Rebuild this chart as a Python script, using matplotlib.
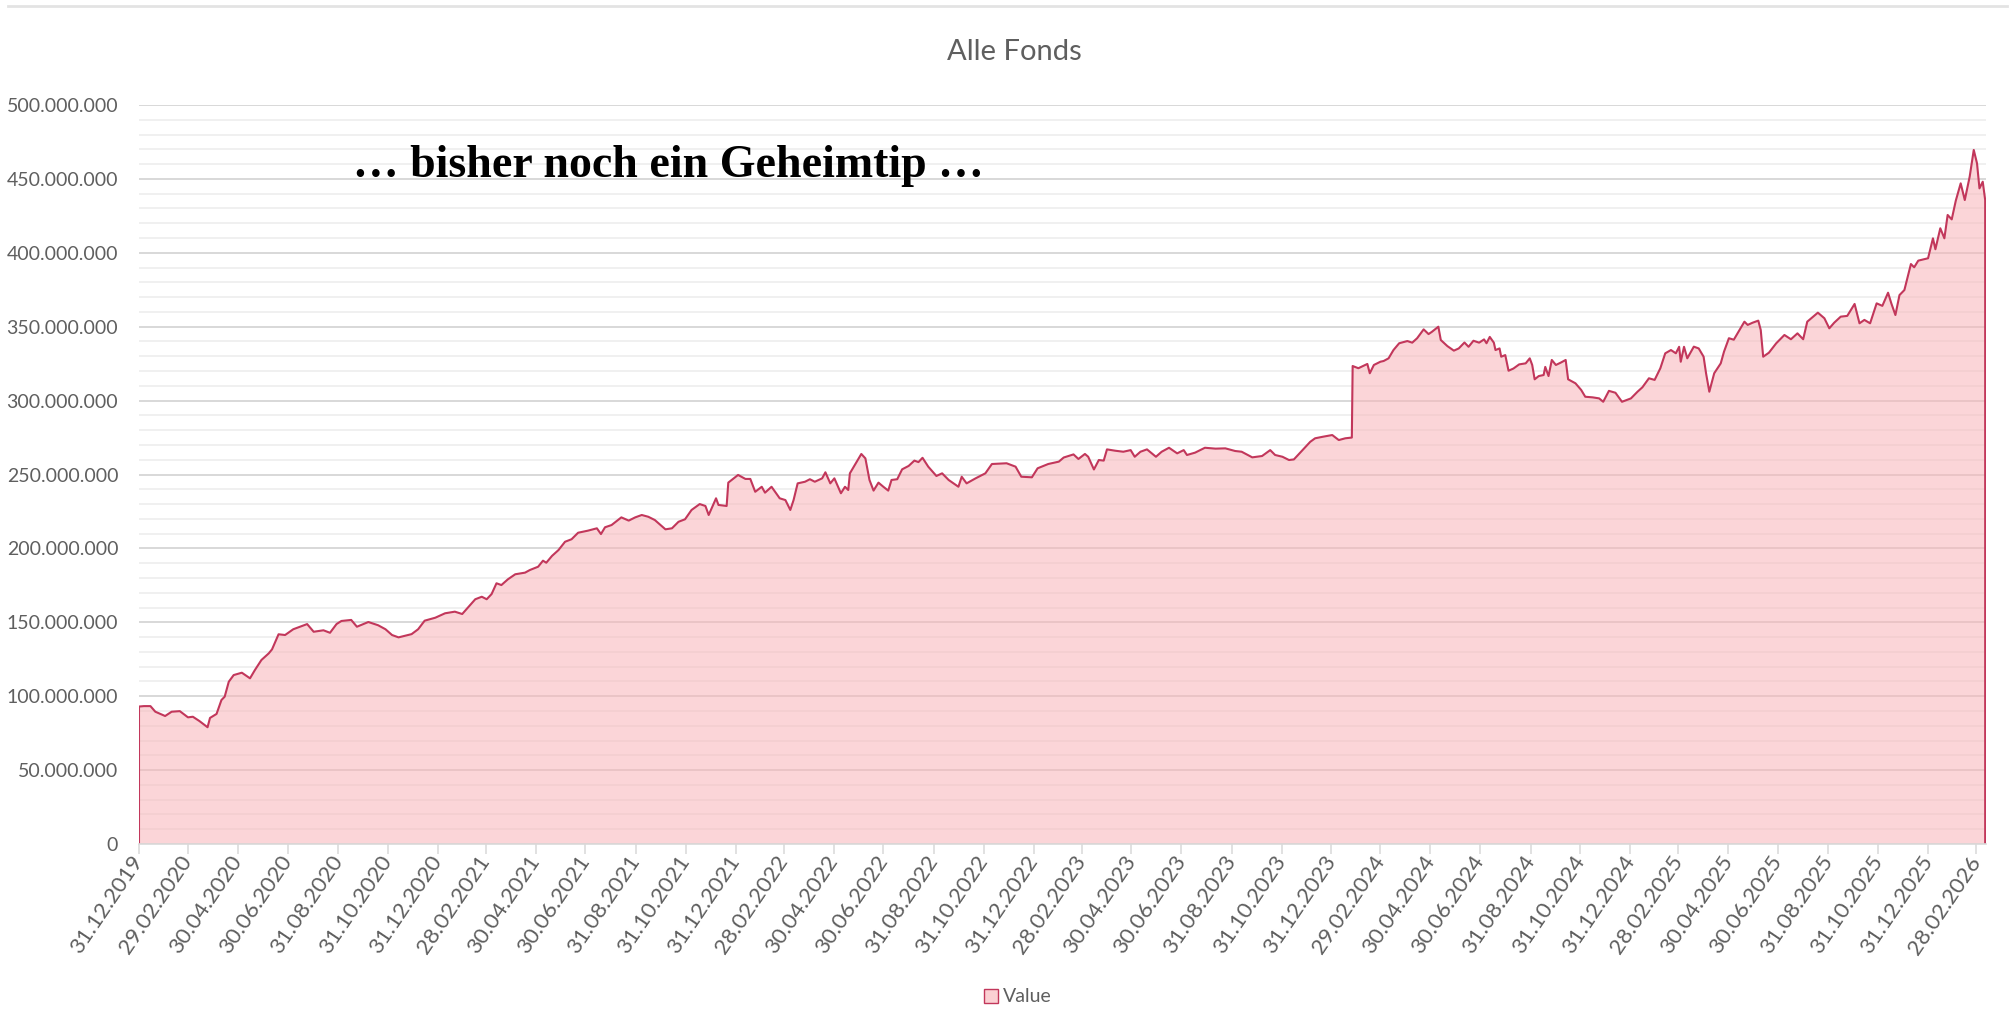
import matplotlib
matplotlib.use("Agg")
import matplotlib.pyplot as plt
from matplotlib.ticker import MultipleLocator, FuncFormatter
from matplotlib.patches import Patch
from matplotlib.lines import Line2D
import pandas as pd

# ---------------- data (values in millions) ----------------
dates = [
    "2019-12-31", "2020-01-06", "2020-01-14", "2020-01-20", "2020-02-01", "2020-02-09", "2020-02-19",
    "2020-02-29", "2020-03-06", "2020-03-14", "2020-03-24", "2020-03-27", "2020-04-04", "2020-04-10",
    "2020-04-14", "2020-04-19", "2020-04-25", "2020-05-05", "2020-05-15", "2020-05-21", "2020-05-29",
    "2020-06-07", "2020-06-11", "2020-06-19", "2020-06-27", "2020-07-07", "2020-07-24", "2020-08-01",
    "2020-08-13", "2020-08-21", "2020-08-29", "2020-09-04", "2020-09-16", "2020-09-23", "2020-10-07",
    "2020-10-19", "2020-10-28", "2020-11-05", "2020-11-13", "2020-11-29", "2020-12-07", "2020-12-15",
    "2020-12-28", "2021-01-09", "2021-01-21", "2021-01-30", "2021-02-07", "2021-02-15", "2021-02-23",
    "2021-03-01", "2021-03-07", "2021-03-13", "2021-03-19", "2021-03-27", "2021-04-05", "2021-04-17",
    "2021-04-23", "2021-05-03", "2021-05-09", "2021-05-13", "2021-05-20", "2021-05-28", "2021-06-05",
    "2021-06-13", "2021-06-21", "2021-07-03", "2021-07-14", "2021-07-19", "2021-07-24", "2021-08-01",
    "2021-08-13", "2021-08-22", "2021-08-30", "2021-09-07", "2021-09-15", "2021-09-23", "2021-10-06",
    "2021-10-14", "2021-10-22", "2021-10-30", "2021-11-07", "2021-11-17", "2021-11-24", "2021-11-28",
    "2021-12-07", "2021-12-10", "2021-12-20", "2021-12-22", "2022-01-03", "2022-01-12", "2022-01-18",
    "2022-01-24", "2022-02-01", "2022-02-05", "2022-02-13", "2022-02-23", "2022-03-02", "2022-03-08",
    "2022-03-12", "2022-03-17", "2022-03-26", "2022-04-01", "2022-04-07", "2022-04-16", "2022-04-20",
    "2022-04-26", "2022-05-01", "2022-05-09", "2022-05-14", "2022-05-18", "2022-05-20", "2022-05-26",
    "2022-06-03", "2022-06-08", "2022-06-13", "2022-06-18", "2022-06-24", "2022-06-30", "2022-07-06",
    "2022-07-10", "2022-07-17", "2022-07-23", "2022-07-31", "2022-08-07", "2022-08-12", "2022-08-17",
    "2022-08-24", "2022-09-03", "2022-09-10", "2022-09-18", "2022-09-30", "2022-10-04", "2022-10-10",
    "2022-10-21", "2022-11-02", "2022-11-10", "2022-11-28", "2022-12-09", "2022-12-16", "2022-12-29",
    "2023-01-05", "2023-01-18", "2023-01-31", "2023-02-06", "2023-02-18", "2023-02-24", "2023-03-04",
    "2023-03-08", "2023-03-15", "2023-03-21", "2023-03-27", "2023-03-31", "2023-04-10", "2023-04-20",
    "2023-04-29", "2023-05-04", "2023-05-11", "2023-05-19", "2023-05-30", "2023-06-06", "2023-06-15",
    "2023-06-25", "2023-07-03", "2023-07-07", "2023-07-17", "2023-07-29", "2023-08-11", "2023-08-23",
    "2023-09-04", "2023-09-12", "2023-09-25", "2023-10-07", "2023-10-17", "2023-10-23", "2023-11-01",
    "2023-11-09", "2023-11-15", "2023-11-25", "2023-12-05", "2023-12-11", "2023-12-21", "2024-01-01",
    "2024-01-09", "2024-01-17", "2024-01-25", "2024-01-26", "2024-02-02", "2024-02-13", "2024-02-16",
    "2024-02-21", "2024-02-29", "2024-03-04", "2024-03-10", "2024-03-16", "2024-03-23", "2024-04-02",
    "2024-04-08", "2024-04-14", "2024-04-22", "2024-04-28", "2024-05-02", "2024-05-10", "2024-05-13",
    "2024-05-21", "2024-05-29", "2024-06-04", "2024-06-11", "2024-06-16", "2024-06-22", "2024-06-29",
    "2024-07-05", "2024-07-08", "2024-07-12", "2024-07-17", "2024-07-19", "2024-07-24", "2024-07-26",
    "2024-07-31", "2024-08-04", "2024-08-10", "2024-08-17", "2024-08-25", "2024-08-30", "2024-09-02",
    "2024-09-05", "2024-09-10", "2024-09-16", "2024-09-18", "2024-09-22", "2024-09-26", "2024-10-01",
    "2024-10-07", "2024-10-13", "2024-10-16", "2024-10-25", "2024-11-01", "2024-11-06", "2024-11-15",
    "2024-11-23", "2024-11-28", "2024-12-05", "2024-12-13", "2024-12-21", "2025-01-01", "2025-01-09",
    "2025-01-15", "2025-01-23", "2025-01-30", "2025-02-06", "2025-02-12", "2025-02-19", "2025-02-25",
    "2025-03-01", "2025-03-03", "2025-03-07", "2025-03-11", "2025-03-19", "2025-03-25", "2025-03-31",
    "2025-04-03", "2025-04-07", "2025-04-13", "2025-04-21", "2025-04-25", "2025-05-01", "2025-05-07",
    "2025-05-20", "2025-05-24", "2025-05-30", "2025-06-06", "2025-06-09", "2025-06-12", "2025-06-19",
    "2025-06-28", "2025-07-08", "2025-07-16", "2025-07-24", "2025-07-31", "2025-08-05", "2025-08-18",
    "2025-08-26", "2025-09-01", "2025-09-07", "2025-09-15", "2025-09-23", "2025-10-02", "2025-10-08",
    "2025-10-14", "2025-10-21", "2025-10-29", "2025-11-05", "2025-11-12", "2025-11-16", "2025-11-21",
    "2025-11-26", "2025-12-02", "2025-12-10", "2025-12-14", "2025-12-19", "2025-12-31", "2026-01-06",
    "2026-01-09", "2026-01-15", "2026-01-20", "2026-01-24", "2026-01-29", "2026-02-03", "2026-02-09",
    "2026-02-14", "2026-02-20", "2026-02-25", "2026-03-01", "2026-03-04", "2026-03-08", "2026-03-11",
]

values_mio = [
    93.0, 93.3, 93.3, 89.5, 86.6, 89.5, 89.9,
    85.7, 86.1, 83.2, 79.0, 85.3, 88.0, 97.4,
    99.7, 109.8, 114.3, 115.9, 112.1, 117.7, 124.5,
    129.0, 131.7, 141.9, 141.4, 145.3, 148.8, 143.6,
    144.6, 142.9, 148.8, 150.9, 151.6, 147.0, 150.2,
    148.0, 145.3, 141.4, 139.8, 142.0, 145.3, 151.1,
    153.1, 156.1, 157.2, 155.6, 160.6, 165.6, 167.3,
    165.6, 169.1, 176.4, 175.2, 179.1, 182.5, 183.6,
    185.4, 187.6, 191.7, 190.3, 194.9, 198.9, 204.5,
    206.2, 210.6, 212.0, 213.6, 209.7, 214.3, 215.8,
    221.0, 218.8, 221.0, 222.6, 221.4, 219.2, 212.9,
    213.6, 218.0, 219.7, 226.0, 230.0, 228.7, 222.6,
    233.9, 229.4, 228.7, 244.5, 249.7, 247.0, 247.0,
    238.3, 241.7, 237.7, 241.7, 233.9, 232.7, 226.0,
    232.7, 244.0, 245.1, 246.8, 245.1, 247.4, 251.5,
    244.0, 247.4, 237.3, 241.7, 239.5, 250.8, 256.4,
    263.9, 260.9, 246.3, 239.1, 244.5, 241.7, 239.1,
    246.3, 246.8, 253.5, 255.8, 259.4, 258.4, 261.3,
    255.3, 249.0, 250.8, 246.3, 241.7, 248.5, 244.0,
    247.4, 250.8, 257.1, 257.6, 255.3, 248.5, 248.1,
    254.2, 257.1, 258.7, 261.5, 263.6, 260.5, 263.9,
    262.0, 253.4, 259.8, 259.4, 267.0, 266.1, 265.4,
    266.5, 262.0, 265.4, 267.0, 262.0, 265.4, 268.1,
    264.3, 266.5, 263.2, 264.8, 268.1, 267.5, 267.7,
    265.9, 265.4, 261.6, 262.5, 266.5, 263.2, 262.0,
    259.8, 260.2, 266.1, 272.1, 274.5, 275.6, 276.7,
    273.3, 274.5, 275.0, 323.4, 321.9, 324.8, 318.5,
    324.1, 326.3, 326.8, 328.6, 334.2, 338.8, 340.3,
    339.2, 342.2, 348.2, 345.0, 346.5, 350.0, 341.0,
    336.9, 333.8, 335.3, 339.3, 336.4, 340.5, 339.2,
    341.4, 338.8, 343.1, 339.2, 334.2, 335.3, 329.7,
    330.8, 320.2, 321.7, 324.5, 325.2, 328.6, 324.1,
    314.4, 316.6, 317.3, 322.8, 316.6, 327.5, 324.1,
    325.7, 327.5, 314.4, 311.7, 307.2, 302.6, 302.2,
    301.5, 299.2, 306.6, 305.3, 299.2, 301.5, 306.0,
    309.0, 315.1, 314.0, 321.9, 332.0, 334.2, 332.0,
    336.4, 326.3, 336.4, 328.6, 336.5, 335.3, 329.7,
    318.5, 306.0, 318.5, 325.2, 333.1, 342.2, 341.2,
    353.4, 351.2, 352.7, 354.1, 347.8, 329.7, 332.4,
    338.8, 344.4, 341.5, 345.5, 341.5, 353.4, 359.5,
    355.7, 348.9, 352.7, 356.8, 357.3, 365.4, 352.3,
    354.6, 352.3, 365.8, 364.1, 373.0, 365.8, 357.9,
    371.4, 374.8, 392.4, 390.2, 394.7, 396.3, 409.8,
    402.4, 416.6, 409.8, 425.6, 422.6, 435.3, 447.0,
    435.7, 451.5, 469.6, 460.5, 443.6, 448.1, 435.7,
]

tick_labels = [
    "31.12.2019", "29.02.2020", "30.04.2020", "30.06.2020", "31.08.2020", "31.10.2020",
    "31.12.2020", "28.02.2021", "30.04.2021", "30.06.2021", "31.08.2021", "31.10.2021",
    "31.12.2021", "28.02.2022", "30.04.2022", "30.06.2022", "31.08.2022", "31.10.2022",
    "31.12.2022", "28.02.2023", "30.04.2023", "30.06.2023", "31.08.2023", "31.10.2023",
    "31.12.2023", "29.02.2024", "30.04.2024", "30.06.2024", "31.08.2024", "31.10.2024",
    "31.12.2024", "28.02.2025", "30.04.2025", "30.06.2025", "31.08.2025", "31.10.2025",
    "31.12.2025", "28.02.2026",
]

title = "Alle Fonds"
annotation = "\u2026 bisher noch ein Geheimtip \u2026"
series_name = "Value"

# ---------------- styling ----------------
LINE = "#c2375b"
FILL = "#f9b4b8"
TXT = "#5f5f5f"
SANS = ["Lato", "DejaVu Sans"]

x = pd.to_datetime(dates)
y = [v * 1e6 for v in values_mio]
tick_pos = pd.to_datetime(tick_labels, format="%d.%m.%Y")

fig = plt.figure(figsize=(20.15, 10.33), dpi=100)
ax = fig.add_axes([139 / 2015, 1 - 844 / 1033, (1986 - 139) / 2015, (844 - 105) / 1033])

# area + outline (vertical edges at start and end)
ax.fill_between(x, y, 0, facecolor=FILL, alpha=0.55, linewidth=0, zorder=2)
ox = [x[0]] + list(x) + [x[-1]]
oy = [0] + y + [0]
ax.plot(ox, oy, color=LINE, linewidth=1.5, zorder=3, solid_joinstyle="round")

ax.set_ylim(0, 500e6)
ax.set_xlim(x[0], x[-1] + pd.Timedelta(days=1))

ax.yaxis.set_major_locator(MultipleLocator(50e6))
ax.yaxis.set_minor_locator(MultipleLocator(10e6))
ax.yaxis.set_major_formatter(FuncFormatter(lambda v, p: f"{int(round(v)):,}".replace(",", ".")))
ax.grid(True, which="major", axis="y", color="#d6d6d6", linewidth=1.3, zorder=0)
ax.grid(True, which="minor", axis="y", color="#ececec", linewidth=1.1, zorder=0)
ax.set_axisbelow(True)

ax.set_xticks(tick_pos)
ax.set_xticklabels(tick_labels)
ax.xaxis.set_minor_locator(plt.NullLocator())

for s in ["top", "right", "left"]:
    ax.spines[s].set_visible(False)
ax.spines["bottom"].set_color("#d9d9d9")
ax.spines["bottom"].set_linewidth(1.2)
ax.spines["bottom"].set_zorder(4)

ax.tick_params(axis="y", which="both", length=0, pad=15, labelsize=14, labelcolor=TXT)
ax.tick_params(axis="x", which="major", length=7, width=1.1, color="#d9d9d9", pad=3,
               labelsize=16, labelcolor=TXT)
for lab in ax.get_yticklabels():
    lab.set_family(SANS)
for lab in ax.get_xticklabels():
    lab.set_family(SANS)
    lab.set_rotation(56)
    lab.set_ha("right")
    lab.set_va("center")
    lab.set_rotation_mode("anchor")

# title
fig.text(1014 / 2015, 1 - 52 / 1033, title, ha="center", va="center",
         fontsize=21, color=TXT, family=SANS)

# annotation text
fig.text(353 / 2015, 1 - 177 / 1033, annotation, ha="left", va="baseline",
         fontsize=33, fontweight="bold", color="black",
         family=["Liberation Serif", "DejaVu Serif"])

# legend
handle = Patch(facecolor="#fbd0d3", edgecolor=LINE, linewidth=1.0)
leg = fig.legend([handle], [series_name], loc="center",
                 bbox_to_anchor=(1018 / 2015, 1 - 997 / 1033), frameon=False,
                 handlelength=0.75, handleheight=0.75, handletextpad=0.25,
                 prop={"family": SANS, "size": 14})
for t in leg.get_texts():
    t.set_color(TXT)

# thin grey rule at the very top
fig.add_artist(Line2D([0.004, 0.996], [1 - 6 / 1033, 1 - 6 / 1033],
                      transform=fig.transFigure, color="#e3e3e3", linewidth=2))

fig.savefig("out.png", dpi=100, facecolor="white")
